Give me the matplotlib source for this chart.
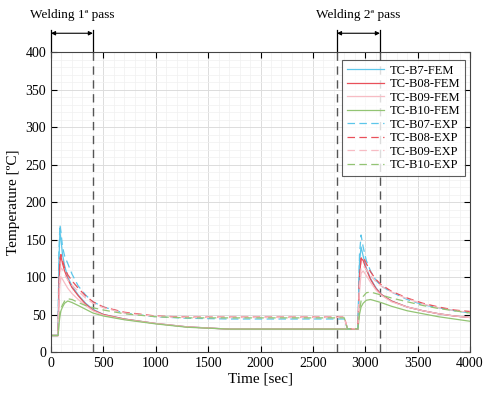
import matplotlib
matplotlib.use("Agg")
import matplotlib.pyplot as plt
from matplotlib.ticker import MultipleLocator

plt.rcParams['font.family'] = ['Liberation Serif', 'DejaVu Serif']

# ---- data ----
t = [0, 60, 68, 75, 85, 95, 110, 130, 160, 200, 260, 330, 400, 500, 700, 1000,
     1300, 1700, 2000, 2500, 2800, 2830, 2930, 2945, 2960, 2980, 3010, 3050,
     3100, 3150, 3250, 3400, 3550, 3700, 3850, 4000]

b7_fem = [22, 22, 23, 120, 160, 150, 130, 115, 100, 88, 76, 65, 57, 50, 44, 38,
          33.5, 30.5, 30.5, 30.5, 30.5, 30.5, 30.5, 120, 140, 128, 112, 98,
          86, 77, 68, 60, 55, 51, 48, 46]
b08_fem = [22, 22, 22, 80, 120, 128, 118, 108, 97, 86, 75, 64, 56, 50, 44, 38,
           33.5, 30.5, 30.5, 30.5, 30.5, 30.5, 30.5, 100, 125, 122, 110, 97,
           85, 77, 68, 60, 55, 51, 48, 46]
b09_fem = [22, 22, 22, 60, 90, 100, 97, 92, 85, 78, 70, 62, 55, 49, 43.5, 38,
           33.5, 30.5, 30.5, 30.5, 30.5, 30.5, 30.5, 80, 105, 108, 102, 93,
           83, 76, 67, 60, 55, 51, 48, 46]
b10_fem = [22, 22, 22, 35, 48, 55, 60, 65, 68, 66, 62, 57, 52, 48, 43, 37.5,
           33, 30.5, 30.5, 30.5, 30.5, 30.5, 30.5, 50, 60, 65, 69, 70,
           68, 66, 61, 55, 51, 47, 44, 41]
b07_exp = [22, 22, 24, 130, 170, 160, 140, 128, 118, 104, 88, 76, 67, 60, 52, 47,
           45, 44, 44, 44, 44, 31, 31, 130, 156, 140, 122, 108,
           96, 88, 80, 70, 63, 59, 55, 52]
b08_exp = [22, 22, 22, 90, 125, 130, 122, 112, 103, 95, 85, 75, 67, 60, 53, 48,
           46.5, 46.5, 46.5, 46.5, 46.5, 31, 31, 100, 125, 127, 118, 107,
           97, 90, 81, 72, 65, 60, 56, 54]
b09_exp = [22, 22, 22, 70, 100, 112, 110, 103, 96, 89, 81, 72, 65, 59, 52, 47.5,
           46, 46, 46, 46, 46, 31, 31, 90, 112, 115, 110, 102,
           94, 88, 80, 71, 64, 59, 55, 53]
b10_exp = [22, 22, 22, 38, 52, 58, 63, 68, 71, 70, 66, 62, 59, 56, 51, 47,
           45.5, 45.5, 45.5, 45.5, 45.5, 31, 31, 55, 68, 74, 79, 80,
           78, 76, 72, 67, 62, 58, 55, 52]

fem_labels = ['TC-B7-FEM', 'TC-B08-FEM', 'TC-B09-FEM', 'TC-B10-FEM']
exp_labels = ['TC-B07-EXP', 'TC-B08-EXP', 'TC-B09-EXP', 'TC-B10-EXP']
pass_starts = [0, 2730]
pass_ends = [400, 3140]
pass_labels = ['Welding 1ª pass', 'Welding 2ª pass']

colors = ['#5cc6ea', '#e9505a', '#f7bcc4', '#93c474']

fig = plt.figure(figsize=(4.83, 3.94), dpi=100)
ax = fig.add_axes([0.1056, 0.1066, 0.8675, 0.7614])

for y, lab, c in zip([b7_fem, b08_fem, b09_fem, b10_fem], fem_labels, colors):
    ax.plot(t, y, color=c, lw=0.9, label=lab)
for y, lab, c in zip([b07_exp, b08_exp, b09_exp, b10_exp], exp_labels, colors):
    ax.plot(t, y, color=c, lw=0.9, ls=(0, (6, 3.5)), label=lab)

for xv in [pass_ends[0], pass_starts[1], pass_ends[1]]:
    ax.axvline(xv, color='#555555', lw=1.0, ls=(0, (6, 4)), zorder=1)

ax.set_xlim(0, 4000)
ax.set_ylim(0, 400)
ax.xaxis.set_major_locator(MultipleLocator(500))
ax.xaxis.set_minor_locator(MultipleLocator(100))
ax.yaxis.set_major_locator(MultipleLocator(50))
ax.yaxis.set_minor_locator(MultipleLocator(10))
ax.grid(which='major', color='#dcdcdc', lw=0.7)
ax.grid(which='minor', color='#f0f0f0', lw=0.5)
ax.set_axisbelow(True)
ax.tick_params(which='both', direction='in', top=True, right=True, labelsize=10)
ax.tick_params(which='major', length=4)
ax.tick_params(which='minor', length=0)
for s in ax.spines.values():
    s.set_color('#444444')
    s.set_linewidth(0.8)

ax.set_xlabel('Time [sec]', fontsize=11, labelpad=2)
ax.set_ylabel('Temperature [ºC]', fontsize=11, labelpad=4)

# welding pass annotations above the axes
for x0, x1, lab in zip(pass_starts, pass_ends, pass_labels):
    for xv in (x0, x1):
        ax.plot([xv, xv], [400, 430], color='black', lw=0.9, clip_on=False)
    ax.annotate('', xy=(x1, 425), xytext=(x0, 425), xycoords='data',
                arrowprops=dict(arrowstyle='<|-|>', color='black', lw=0.8,
                                mutation_scale=6, shrinkA=0, shrinkB=0),
                annotation_clip=False)
    ax.text((x0 + x1) / 2, 450, lab, ha='center', va='center', fontsize=9.5,
            clip_on=False)

leg = ax.legend(loc='upper right', bbox_to_anchor=(0.988, 0.975), fontsize=9,
                frameon=True, fancybox=False, edgecolor='#333333',
                handlelength=3.0, handletextpad=0.4, labelspacing=0.12,
                borderpad=0.4, borderaxespad=0)
leg.get_frame().set_linewidth(0.8)

fig.savefig('out.png', dpi=100)
